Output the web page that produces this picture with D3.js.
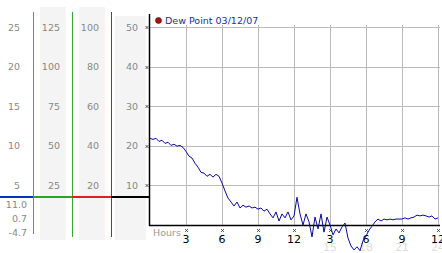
<!DOCTYPE html>
<html>
<head>
<meta charset="utf-8">
<script src="https://cdn.jsdelivr.net/npm/d3@7"></script>
<style>
  body { margin: 0; background: #fff; }
  svg { display: block; font-family: "DejaVu Sans", Verdana, sans-serif; }
</style>
</head>
<body>
<div id="chart"></div>
<script>
// dew point, every 15 minutes from 0 to 24 hours
let hours = d3.range(0, 24.01, 0.25);
let dewpoint = [
  21.9, 21.6, 21.9, 21.1, 21.4, 20.6, 20.9, 20.1, 20.4, 19.9, 20.1, 19.6,
  18.6, 17.4, 16.9, 15.6, 14.6, 13.3, 13.1, 12.3, 12.8, 12.1, 12.8, 12.3,
  10.6, 8.6, 6.8, 5.8, 4.8, 5.8, 4.3, 5.0, 4.5, 4.8, 4.3, 4.5,
  4.0, 4.3, 3.5, 4.0, 2.8, 1.8, 3.3, 1.0, 2.8, 1.8, 3.3, 1.3,
  2.3, 7.0, 2.8, 0.0, 2.8, 0.8, -3.0, 2.0, -1.0, 2.8, -1.8, 2.0,
  0.0, -2.5, -1.0, -2.0, -0.5, 0.5, -3.3, -5.3, -6.3, -5.5, -6.5, -4.0,
  -2.8, -1.3, -0.3, 0.8, 1.5, 1.0, 1.5, 1.3, 1.5, 1.3, 1.5, 1.5,
  1.5, 1.8, 1.5, 1.8, 2.0, 2.5, 2.3, 2.5, 2.3, 2.0, 2.3, 1.5, 1.8
];
let hourTicks = [3, 6, 9, 12, 15, 18, 21, 24];
let hourLabels = ["3", "6", "9", "12", "3", "6", "9", "12"];
let hourLabels24 = ["", "", "", "", "15", "18", "21", "24"];
let plotTicks = [10, 20, 30, 40, 50];
let col1 = [5, 10, 15, 20, 25];
let col2 = [25, 50, 75, 100, 125];
let col3 = [20, 40, 60, 80, 100];
let col4 = [10, 20, 30, 40, 50];
let stats = ["11.0", "0.7", "-4.7"];
let legendText = "Dew Point 03/12/07";

let w = 442;
let h = 253;
let svg = d3.select("#chart").append("svg")
  .attr("width", w)
  .attr("height", h);

let x = d3.scaleLinear().domain([0, 24]).range([150, 438]);
let y = d3.scaleLinear().domain([0, 50]).range([225, 27]);

// grey bands behind columns
let bands = [[40, 66, 7], [79, 105, 7], [115, 146, 16]];
svg.selectAll(".band").data(bands).enter().append("rect")
  .attr("x", d => d[0]).attr("y", d => d[2])
  .attr("width", d => d[1] - d[0]).attr("height", d => 240 - d[2])
  .attr("fill", "#f4f4f4");

// column labels
let cols = [
  { vals: col1, xr: 20 },
  { vals: col2, xr: 60 },
  { vals: col3, xr: 99 },
  { vals: col4, xr: 138 }
];
cols.forEach(c => {
  let s = d3.scaleLinear().domain([0, d3.max(c.vals)]).range([225, 27]);
  svg.selectAll(null).data(c.vals).enter().append("text")
    .attr("x", c.xr).attr("y", d => s(d) + 3.5)
    .attr("text-anchor", "end")
    .attr("font-size", "9.5px")
    .attr("fill", "#888")
    .text(d => d);
});

svg.selectAll(".stat").data(stats).enter().append("text")
  .attr("x", 27).attr("y", (d, i) => 207.5 + i * 14)
  .attr("text-anchor", "end")
  .attr("font-size", "9.5px")
  .attr("fill", "#888")
  .text(d => d);

// colored column lines
let vlines = [[33, "#3399cc", 12, 234], [72, "#33aa33", 12, 237], [111, "#aa2222", 12, 237]];
svg.selectAll(".vl").data(vlines).enter().append("line")
  .attr("x1", d => d[0] + 0.5).attr("x2", d => d[0] + 0.5)
  .attr("y1", d => d[2]).attr("y2", d => d[3])
  .attr("stroke", d => d[1]).attr("stroke-width", 1);

let hsegs = [[0, 33, "#0033cc"], [33, 72, "#22aa22"], [72, 111, "#dd2222"], [111, 149, "#000"]];
svg.selectAll(".hs").data(hsegs).enter().append("line")
  .attr("x1", d => d[0]).attr("x2", d => d[1])
  .attr("y1", 197).attr("y2", 197)
  .attr("stroke", d => d[2]).attr("stroke-width", 2);

// grid
svg.selectAll(".gh").data(plotTicks).enter().append("line")
  .attr("x1", 149).attr("x2", 440)
  .attr("y1", d => Math.round(y(d)) + 0.5).attr("y2", d => Math.round(y(d)) + 0.5)
  .attr("stroke", "#bbb");
svg.selectAll(".gv").data(hourTicks).enter().append("line")
  .attr("x1", d => Math.round(x(d)) + 0.5).attr("x2", d => Math.round(x(d)) + 0.5)
  .attr("y1", 25).attr("y2", 225)
  .attr("stroke", "#bbb");

// axes
svg.append("line").attr("x1", 149.5).attr("x2", 149.5).attr("y1", 14).attr("y2", 226)
  .attr("stroke", "#000").attr("stroke-width", 1.5);
svg.append("line").attr("x1", 149).attr("x2", 440).attr("y1", 225.5).attr("y2", 225.5)
  .attr("stroke", "#000").attr("stroke-width", 1.5);

// little tick marks
function cross(px, py) {
  return "M" + (px - 1.5) + "," + (py - 1.5) + "L" + (px + 1.5) + "," + (py + 1.5) +
    "M" + (px + 1.5) + "," + (py - 1.5) + "L" + (px - 1.5) + "," + (py + 1.5);
}
svg.selectAll(".ty").data(plotTicks).enter().append("path")
  .attr("d", d => cross(147, Math.round(y(d)) + 0.5))
  .attr("stroke", "#333").attr("stroke-width", 0.8).attr("fill", "none");
svg.selectAll(".tx").data(hourTicks).enter().append("path")
  .attr("d", d => cross(Math.round(x(d)) + 0.5, 230.5))
  .attr("stroke", "#333").attr("stroke-width", 0.8).attr("fill", "none");

// hour labels
svg.selectAll(".hl24").data(hourTicks).enter().append("text")
  .attr("x", d => x(d)).attr("y", 251)
  .attr("text-anchor", "middle")
  .attr("font-size", "11px")
  .attr("fill", "#dcdcdc")
  .text((d, i) => hourLabels24[i]);
svg.selectAll(".hl").data(hourTicks).enter().append("text")
  .attr("x", d => x(d)).attr("y", 243)
  .attr("text-anchor", "middle")
  .attr("font-size", "11px")
  .attr("fill", "#000")
  .text((d, i) => hourLabels[i]);

svg.append("text").attr("x", 153).attr("y", 235.5)
  .attr("font-size", "9.5px").attr("fill", "#999").text("Hours");

// data line
let line = d3.line()
  .x((d, i) => x(hours[i]))
  .y(d => y(d));
svg.append("path")
  .datum(dewpoint)
  .attr("d", line)
  .attr("fill", "none")
  .attr("stroke", "#0a0a99")
  .attr("stroke-width", 1);

// legend
svg.append("circle").attr("cx", 158.5).attr("cy", 20.5).attr("r", 3)
  .attr("fill", "#aa1111").attr("stroke", "#550000").attr("stroke-width", 0.6);
svg.append("text").attr("x", 165).attr("y", 24)
  .attr("font-size", "9.5px").attr("fill", "#1a2fa0").text(legendText);
</script>
</body>
</html>
